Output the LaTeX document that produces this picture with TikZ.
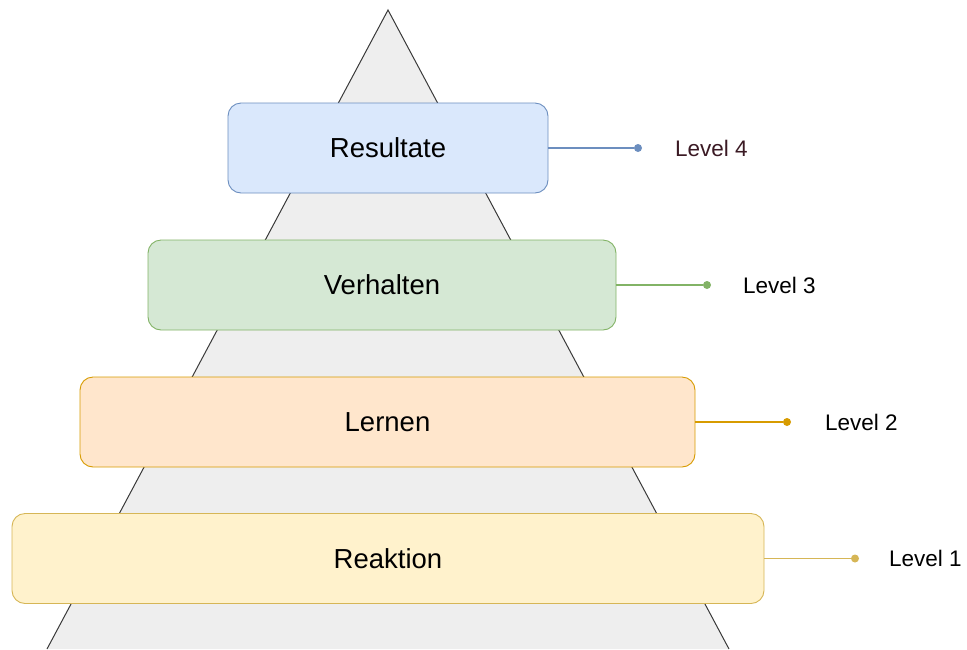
\documentclass[tikz,border=0pt]{standalone}
\usepackage{fontspec}
\setmainfont{Liberation Sans}
\usetikzlibrary{positioning}
\definecolor{pyrfill}{HTML}{EEEEEE}
\definecolor{pyrline}{HTML}{3A3A3A}
\definecolor{resfill}{HTML}{DAE8FC}
\definecolor{resline}{HTML}{6C8EBF}
\definecolor{verfill}{HTML}{D5E8D4}
\definecolor{verline}{HTML}{82B366}
\definecolor{lerfill}{HTML}{FFE6CC}
\definecolor{lerline}{HTML}{D79B00}
\definecolor{reafill}{HTML}{FFF2CC}
\definecolor{realine}{HTML}{D6B656}
\definecolor{lvlfour}{HTML}{3B1A24}
\begin{document}
\begin{tikzpicture}[x=1pt,y=-1pt,
    stage/.style={draw, rounded corners=13pt, line width=0.9pt, minimum height=90pt,
                  font=\fontsize{27.5}{32}\selectfont},
    dot/.style={circle, inner sep=0pt, minimum size=8pt},
    level/.style={anchor=west, inner sep=0pt, font=\fontsize{22.5}{27}\selectfont},
    link/.style={line width=1.6pt}]
  \useasboundingbox (0,0) rectangle (967,649);
  % pyramid behind the stages
  \fill[pyrfill] (388,10) -- (47,649) -- (729,649) -- cycle;
  \draw[pyrline, line width=1pt] (47,649) -- (388,10) -- (729,649);
  % stages
  \node(Res) [stage, fill=resfill, draw=resline, minimum width=320pt] at (388,148)   {Resultate};
  \node(Ver) [stage, fill=verfill, draw=verline, minimum width=468pt] at (382,285)   {Verhalten};
  \node(Ler) [stage, fill=lerfill, draw=lerline, minimum width=615pt] at (387.5,422) {Lernen};
  \node(Rea) [stage, fill=reafill, draw=realine, minimum width=752pt] at (388,558.5) {Reaktion};
  % level markers
  \node(d4) [dot, fill=resline] at (638,148)   {};
  \node(d3) [dot, fill=verline] at (707,285)   {};
  \node(d2) [dot, fill=lerline] at (787,422)   {};
  \node(d1) [dot, fill=realine] at (855,558.5) {};
  \node(L4) [level, text=lvlfour] at (675,148)   {Level 4};
  \node(L3) [level] at (743,285)   {Level 3};
  \node(L2) [level] at (825,422)   {Level 2};
  \node(L1) [level] at (889,558.5) {Level 1};
  \draw[link, resline] (Res.east) -- (d4);
  \draw[link, verline] (Ver.east) -- (d3);
  \draw[link, lerline] (Ler.east) -- (d2);
  \draw[link, realine] (Rea.east) -- (d1);
\end{tikzpicture}
\end{document}
